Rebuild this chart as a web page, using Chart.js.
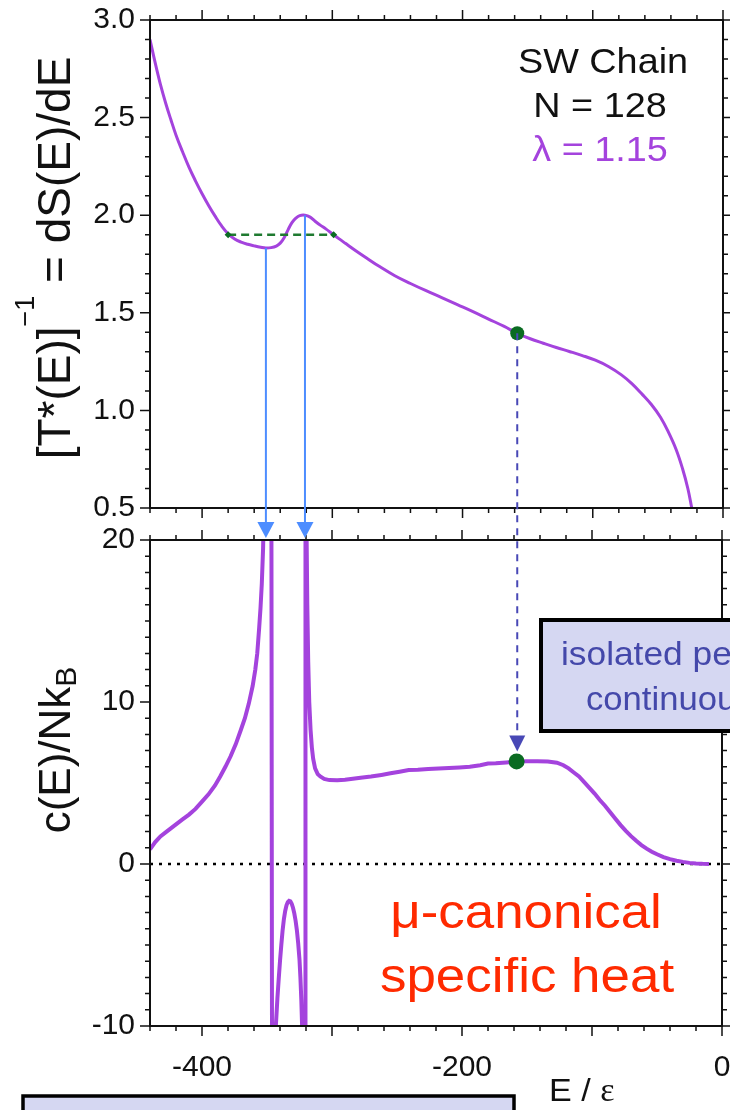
<!DOCTYPE html>
<html>
<head>
<meta charset="utf-8">
<script src="https://cdn.jsdelivr.net/npm/chart.js@4.4.0/dist/chart.umd.min.js"></script>
<style>
    html, body { margin: 0; padding: 0; background: #fff; overflow: hidden; }
    #wrap { position: relative; width: 730px; height: 1110px; }
    #wrap canvas { position: absolute; left: 0; top: 0; }
</style>
</head>
<body>
<div id="wrap">
    <canvas id="topChart" width="730" height="1110"></canvas>
    <canvas id="bottomChart" width="730" height="1110"></canvas>
</div>
<script>
// Inverse microcanonical temperature, top panel
var topE = [-440, -436, -432, -428, -424, -420, -415, -410, -405, -400, -395, -390, -385, -380,
    -375, -370, -365, -360, -355, -351, -347, -343, -340, -337, -334, -331, -328, -325, -321,
    -317, -313, -309, -305, -300, -295, -290, -282, -274, -264, -252, -240, -228, -216, -204,
    -192, -180, -168, -158, -148, -138, -128, -118, -108, -98, -88, -78, -70, -62, -55, -48,
    -42, -36, -31, -27, -24];
var topInvT = [2.90, 2.78, 2.67, 2.575, 2.49, 2.41, 2.325, 2.245, 2.175, 2.11, 2.05, 1.995, 1.945, 1.905,
    1.878, 1.862, 1.851, 1.843, 1.836, 1.832, 1.834, 1.842, 1.857, 1.885, 1.925, 1.962, 1.985, 1.998, 2.0,
    1.99, 1.968, 1.948, 1.93, 1.905, 1.880, 1.856, 1.818, 1.782, 1.738, 1.690, 1.650, 1.613, 1.578, 1.542,
    1.506, 1.468, 1.430, 1.395, 1.367, 1.344, 1.322, 1.302, 1.281, 1.257, 1.225, 1.182, 1.137, 1.082, 1.03, 0.965,
    0.89, 0.80, 0.70, 0.60, 0.50];

// Microcanonical specific heat, bottom panel
var botE = [-440, -436, -432, -428, -424, -420, -415, -410, -405, -400, -395, -390, -386, -382, -378,
    -374, -370, -367, -364, -361, -359, -357.5, -356, -355, -354, -353, -351.5, -349.5, -347.3, -345.3,
    -343.2, -342, -341, -340, -339, -338, -337, -336, -335, -334, -333, -332, -331, -330, -329, -328,
    -327, -326, -325, -324.3, -323.6, -323, -322, -320.6, -320.4, -320, -319.5, -319, -318.3, -317.5,
    -316.5, -315.5, -314.5, -313, -311, -309, -306, -302, -296, -290, -284, -278, -270, -262, -255,
    -248, -241, -234, -226, -218, -210, -202, -194, -186, -180, -174, -166, -158, -150, -142, -134,
    -127, -122, -118, -114, -110, -106, -102, -98, -94, -90, -86, -82, -78, -74, -70, -66, -62, -58,
    -54, -50, -45, -40, -35, -30, -25, -20, -15, -10];
var botC = [0.9, 1.35, 1.7, 1.95, 2.2, 2.45, 2.75, 3.05, 3.4, 3.85, 4.3, 4.85, 5.4, 6.0, 6.65,
    7.4, 8.3, 9.0, 9.9, 11.0, 12.0, 13.0, 14.6, 15.8, 17.3, 19.5, 26, 40, 70, -70,
    -10, -8.3, -7.1, -6.0, -5.0, -4.1, -3.4, -2.9, -2.55, -2.35, -2.27, -2.3, -2.45, -2.7, -3.05, -3.5,
    -4.1, -4.9, -5.9, -7.0, -8.4, -10, -25, -70, 70, 30, 20, 16, 12.5, 10,
    8.3, 7.2, 6.5, 5.9, 5.55, 5.4, 5.25, 5.18, 5.17, 5.2, 5.26, 5.33, 5.4, 5.5, 5.6,
    5.7, 5.8, 5.82, 5.86, 5.9, 5.93, 5.96, 6.0, 6.1, 6.2, 6.22, 6.27, 6.33, 6.35, 6.35, 6.32,
    6.25, 6.1, 5.9, 5.65, 5.4, 5.05, 4.7, 4.35, 3.95, 3.6, 3.2, 2.8, 2.4, 2.05, 1.72, 1.43, 1.17, 0.95,
    0.76, 0.6, 0.43, 0.3, 0.2, 0.13, 0.07, 0.03, 0.01, 0.0];

var xLabelTicks = [-400, -200, 0];
var topYTicks = [0.5, 1.0, 1.5, 2.0, 2.5, 3.0];
var botYTicks = [-10, 0, 10, 20];
var maxwellE = [-380, -299];
var maxwellInvT = 1.9;
var markE = -158;
var markInvT = 1.395;
var markC = 6.33;

var FONT = "'Liberation Sans', Arial, sans-serif";
var PURPLE = '#a443dd';
var GREEN = '#0a6b22';
var LIGHTBLUE = '#4d8dff';
var DARKBLUE = '#4848b6';
var BOXFILL = '#d5d7f2';

function pts(xs, ys) {
    return xs.map(function(x, i) { return { x: x, y: ys[i] }; });
}

function scaleOpts(axisMin, axisMax, tickValues, fmt, showLabels, padding, fitFn) {
    return {
        type: 'linear',
        min: axisMin,
        max: axisMax,
        grid: { display: false, drawTicks: false },
        border: { display: false },
        afterBuildTicks: function(s) {
            s.ticks = tickValues.map(function(v) { return { value: v }; });
        },
        ticks: {
            display: showLabels,
            padding: padding,
            color: '#111',
            font: { family: FONT, size: 30 },
            callback: fmt
        },
        afterFit: fitFn
    };
}

function fitWidth(w) {
    return function(s) { s.width = w; s.paddingTop = 0; s.paddingBottom = 0; };
}
function fitHeight(h) {
    return function(s) { s.height = h; s.paddingLeft = 0; s.paddingRight = 0; };
}

// frame + outward tick marks on all four sides
function drawFrame(chart, yMinor, yRatio) {
    var ctx = chart.ctx, a = chart.chartArea;
    var xs = chart.scales.x, ys = chart.scales.y;
    ctx.save();
    ctx.strokeStyle = '#111';
    ctx.lineWidth = 1.5;
    ctx.beginPath();
    for (var v = Math.ceil(xs.min / 20) * 20; v <= xs.max; v += 20) {
        var px = xs.getPixelForValue(v);
        var len = (v % 100 === 0) ? 10 : 5;
        ctx.moveTo(px, a.top); ctx.lineTo(px, a.top - len);
        ctx.moveTo(px, a.bottom); ctx.lineTo(px, a.bottom + len);
    }
    var k0 = Math.ceil(ys.min / yMinor - 1e-6), k1 = Math.floor(ys.max / yMinor + 1e-6);
    for (var k = k0; k <= k1; k++) {
        var py = ys.getPixelForValue(k * yMinor);
        var l = (k % yRatio === 0) ? 10 : 5;
        ctx.moveTo(a.left, py); ctx.lineTo(a.left - l, py);
        ctx.moveTo(a.right, py); ctx.lineTo(a.right + l, py);
    }
    ctx.stroke();
    ctx.lineWidth = 2;
    ctx.strokeRect(a.left, a.top, a.right - a.left, a.bottom - a.top);
    ctx.restore();
}

function text(ctx, str, x, y, size, color, align, sx, family) {
    ctx.save();
    ctx.font = size + 'px ' + (family || FONT);
    ctx.fillStyle = color;
    ctx.textAlign = align;
    ctx.textBaseline = 'alphabetic';
    ctx.translate(x, y);
    ctx.scale(sx, 1);
    ctx.fillText(str, 0, 0);
    ctx.restore();
}

// rotated axis title made of pieces {t, size, shift}
function rotatedTitle(ctx, pieces, baseX, centerY) {
    ctx.save();
    ctx.fillStyle = '#111';
    ctx.textBaseline = 'alphabetic';
    ctx.textAlign = 'left';
    var total = 0;
    pieces.forEach(function(p) {
        ctx.font = p.size + 'px ' + FONT;
        p.w = ctx.measureText(p.t).width;
        total += p.w;
    });
    ctx.translate(baseX, centerY);
    ctx.rotate(-Math.PI / 2);
    var x = -total / 2;
    pieces.forEach(function(p) {
        ctx.font = p.size + 'px ' + FONT;
        ctx.fillText(p.t, x, -p.shift);
        x += p.w;
    });
    ctx.restore();
}

function arrowHead(ctx, x, tipY, w, h, color) {
    ctx.fillStyle = color;
    ctx.beginPath();
    ctx.moveTo(x - w / 2, tipY - h);
    ctx.lineTo(x + w / 2, tipY - h);
    ctx.lineTo(x, tipY);
    ctx.closePath();
    ctx.fill();
}

// E of the local min / max of the top curve in the loop region
function loopExtreme(sign) {
    var best = -1;
    for (var i = 0; i < topE.length; i++) {
        if (topE[i] < -370 || topE[i] > -300) continue;
        if (best < 0 || sign * topInvT[i] > sign * topInvT[best]) best = i;
    }
    return { x: topE[best], y: topInvT[best] };
}

var topDeco = {
    id: 'topDeco',
    afterDraw: function(chart) {
        var ctx = chart.ctx;
        drawFrame(chart, 0.1, 5);
        text(ctx, 'SW Chain', 603, 73, 35, '#111', 'center', 1.08);
        text(ctx, 'N = 128', 600, 117, 35, '#111', 'center', 1.08);
        text(ctx, '\u03bb = 1.15', 600, 161, 35, PURPLE, 'center', 1.08);
        rotatedTitle(ctx, [
            { t: '[T*(E)]', size: 46, shift: 0 },
            { t: '\u22121', size: 27, shift: 36 },
            { t: ' = dS(E)/dE', size: 46, shift: 0 }
        ], 70, 258);
    }
};

var topChart = new Chart(document.getElementById('topChart'), {
    type: 'scatter',
    data: {
        datasets: [{
            data: [{ x: markE, y: markInvT }],
            pointRadius: 7,
            pointBackgroundColor: GREEN,
            pointBorderWidth: 0
        }, {
            data: pts(maxwellE, [maxwellInvT, maxwellInvT]),
            showLine: true,
            borderColor: '#1f7a30',
            borderWidth: 2.5,
            borderDash: [8, 5],
            pointStyle: 'rectRot',
            pointRadius: 3.5,
            pointBackgroundColor: GREEN,
            pointBorderWidth: 0
        }, {
            data: pts(topE, topInvT),
            showLine: true,
            borderColor: PURPLE,
            borderWidth: 3,
            pointRadius: 0,
            tension: 0.4,
            clip: 0
        }]
    },
    options: {
        responsive: false,
        animation: false,
        devicePixelRatio: 1,
        layout: { padding: { top: 20, right: 4, left: 0, bottom: 0 } },
        plugins: { legend: { display: false }, tooltip: { enabled: false } },
        scales: {
            x: scaleOpts(-440, 0, xLabelTicks, function(v) { return String(v); }, false, 24, fitHeight(602)),
            y: scaleOpts(0.5, 3.0, topYTicks, function(v) { return v.toFixed(1); }, true, 15, fitWidth(150))
        }
    },
    plugins: [topDeco]
});

var bottomDeco = {
    id: 'bottomDeco',
    afterDraw: function(chart) {
        var ctx = chart.ctx, a = chart.chartArea;
        drawFrame(chart, 1, 10);

        // arrows from the inverse temperature panel
        var tx = topChart.scales.x, ty = topChart.scales.y;
        ctx.save();
        [loopExtreme(-1), loopExtreme(1)].forEach(function(p) {
            var px = tx.getPixelForValue(p.x);
            ctx.strokeStyle = LIGHTBLUE;
            ctx.lineWidth = 2;
            ctx.beginPath();
            ctx.moveTo(px, ty.getPixelForValue(p.y));
            ctx.lineTo(px, a.top - 16);
            ctx.stroke();
            arrowHead(ctx, px, a.top - 2, 17, 16, LIGHTBLUE);
        });
        var mx = tx.getPixelForValue(markE);
        var tipY = chart.scales.y.getPixelForValue(markC) - 10;
        ctx.strokeStyle = DARKBLUE;
        ctx.lineWidth = 2;
        ctx.setLineDash([7, 6]);
        ctx.beginPath();
        ctx.moveTo(mx, ty.getPixelForValue(markInvT));
        ctx.lineTo(mx, tipY - 15);
        ctx.stroke();
        ctx.setLineDash([]);
        arrowHead(ctx, mx, tipY, 16, 16, DARKBLUE);

        // boxes
        ctx.fillStyle = BOXFILL;
        ctx.strokeStyle = '#000';
        ctx.lineWidth = 4;
        ctx.fillRect(541, 620, 240, 111);
        ctx.strokeRect(541, 620, 240, 111);
        ctx.lineWidth = 3.5;
        ctx.fillRect(23, 1096, 491, 40);
        ctx.strokeRect(23, 1096, 491, 40);
        ctx.restore();

        text(ctx, 'isolated peak', 561, 665, 33, '#4448aa', 'left', 1.07);
        text(ctx, 'continuous', 586, 710, 33, '#4448aa', 'left', 1.05);

        text(ctx, '\u03bc-canonical', 526, 928, 49, '#ff2a00', 'center', 1.08);
        text(ctx, 'specific heat', 527, 992, 49, '#ff2a00', 'center', 1.08);

        // x axis title
        ctx.save();
        ctx.font = '31px ' + FONT;
        var w = ctx.measureText('E / ').width * 1.1;
        ctx.restore();
        text(ctx, 'E / ', 549, 1101, 31, '#111', 'left', 1.1);
        text(ctx, '\u03b5', 549 + w, 1101, 34, '#111', 'left', 1.0, "'Liberation Serif', serif");

        rotatedTitle(ctx, [
            { t: 'c(E)/Nk', size: 44, shift: 0 },
            { t: 'B', size: 30, shift: -6 }
        ], 70, 750);
    }
};

var bottomChart = new Chart(document.getElementById('bottomChart'), {
    type: 'scatter',
    data: {
        datasets: [{
            data: [{ x: markE, y: markC }],
            pointRadius: 8,
            pointBackgroundColor: GREEN,
            pointBorderWidth: 0
        }, {
            data: pts(botE, botC),
            showLine: true,
            borderColor: PURPLE,
            borderWidth: 4,
            pointRadius: 0,
            tension: 0,
            clip: 0
        }, {
            data: pts([-440, 0], [0, 0]),
            showLine: true,
            borderColor: '#000',
            borderWidth: 2.5,
            borderDash: [3, 6],
            pointRadius: 0
        }]
    },
    options: {
        responsive: false,
        animation: false,
        devicePixelRatio: 1,
        layout: { padding: { top: 540, right: 4, left: 0, bottom: 0 } },
        plugins: { legend: { display: false }, tooltip: { enabled: false } },
        scales: {
            x: scaleOpts(-440, 0, xLabelTicks, function(v) { return String(v); }, true, 24, fitHeight(84)),
            y: scaleOpts(-10, 20, botYTicks, function(v) { return String(v); }, true, 15, fitWidth(150))
        }
    },
    plugins: [bottomDeco]
});
</script>
</body>
</html>
